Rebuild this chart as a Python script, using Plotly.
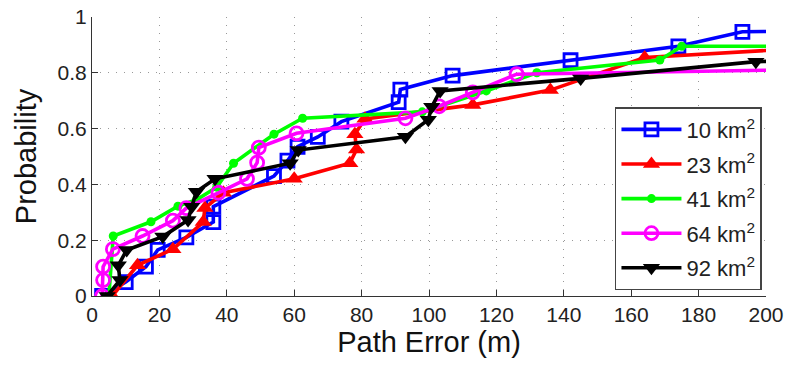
import plotly.graph_objects as go

names = ["10 km<sup>2</sup>", "23 km<sup>2</sup>", "41 km<sup>2</sup>", "64 km<sup>2</sup>", "92 km<sup>2</sup>"]

x10 = [3, 10, 16, 19.5, 28, 36, 36, 54, 58, 61, 67, 74, 91, 91.5, 107, 142, 174, 193, 215]
y10 = [0.0, 0.05, 0.105, 0.165, 0.21, 0.265, 0.32, 0.43, 0.485, 0.535, 0.57, 0.625, 0.695, 0.74, 0.79, 0.845, 0.895, 0.947, 0.95]

x23 = [6, 13.5, 24, 33, 33.5, 39, 60, 76.5, 78.5, 78, 81, 113, 136, 164, 215]
y23 = [0.0, 0.11, 0.168, 0.265, 0.315, 0.37, 0.42, 0.476, 0.525, 0.58, 0.635, 0.685, 0.738, 0.855, 0.89]

x41 = [5, 6.3, 17.5, 25.5, 31, 37, 42, 54, 62.5, 98, 117, 132, 168.5, 175, 215]
y41 = [0.0, 0.215, 0.266, 0.322, 0.345, 0.39, 0.476, 0.58, 0.637, 0.66, 0.735, 0.80, 0.846, 0.895, 0.895]

x64 = [3, 3.3, 3.3, 6.2, 15, 24, 28, 37.5, 46, 49, 49.5, 60.7, 93, 103, 113, 126, 215]
y64 = [0.0, 0.057, 0.105, 0.168, 0.215, 0.27, 0.315, 0.37, 0.42, 0.478, 0.532, 0.583, 0.637, 0.68, 0.73, 0.795, 0.812]

x92 = [4.5, 8.3, 7.8, 10.3, 21, 28.5, 29.6, 31, 36.5, 58.8, 61.2, 93, 99.8, 100.8, 103.3, 145, 197, 215]
y92 = [0.0, 0.057, 0.11, 0.165, 0.213, 0.272, 0.32, 0.374, 0.42, 0.476, 0.523, 0.571, 0.632, 0.678, 0.735, 0.78, 0.84, 0.845]

x_ticks = [0, 20, 40, 60, 80, 100, 120, 140, 160, 180, 200]
y_ticks = [0, 0.2, 0.4, 0.6, 0.8, 1]
y_tick_labels = ["0", "0.2", "0.4", "0.6", "0.8", "1"]

series = [
    (x10, y10, names[0], "#0000ff", "square-open", 13, 2.8),
    (x23, y23, names[1], "#ff0000", "triangle-up", 15, 0),
    (x41, y41, names[2], "#00ff00", "circle", 9, 0),
    (x64, y64, names[3], "#ff00ff", "circle-open", 13, 2.8),
    (x92, y92, names[4], "#000000", "triangle-down", 15, 0),
]

fig = go.Figure()
for i, (xs, ys, nm, col, sym, sz, lw) in enumerate(series):
    fig.add_trace(go.Scatter(
        x=xs, y=ys, name=nm, mode="lines+markers", legendgroup="g%d" % i,
        line=dict(color=col, width=3.6),
        marker=dict(symbol=sym, size=sz, color=col, line=dict(color=col, width=lw)),
        cliponaxis=True,
    ))

font_family = "Liberation Sans, Arial, Helvetica, sans-serif"

fig.update_layout(
    width=788, height=371,
    margin=dict(l=92, r=22, t=17, b=75),
    paper_bgcolor="white", plot_bgcolor="white",
    font=dict(family=font_family, size=21, color="#222"),
    showlegend=True,
    legend=dict(
        x=0.994, y=0.677, xanchor="right", yanchor="top",
        bgcolor="white", bordercolor="#444", borderwidth=1.5,
        font=dict(size=22, color="#222"),
        tracegroupgap=3, itemwidth=60,
    ),
    xaxis=dict(
        range=[0, 200], tickvals=x_ticks, ticktext=[str(v) for v in x_ticks],
        showgrid=True, gridcolor="#999999", griddash="1px,7px", gridwidth=1,
        showline=True, linecolor="#333", linewidth=1.2,
        ticks="inside", ticklen=6, tickcolor="#333",
        zeroline=False, mirror=False, automargin=False,
        ticklabeloverflow="allow",
        title=dict(text="Path Error (m)", font=dict(size=29, color="#111"), standoff=4),
        tickfont=dict(size=21),
    ),
    yaxis=dict(
        range=[0, 1], tickvals=y_ticks, ticktext=y_tick_labels,
        showgrid=True, gridcolor="#999999", griddash="1px,7px", gridwidth=1,
        showline=True, linecolor="#333", linewidth=1.2,
        ticks="inside", ticklen=6, tickcolor="#333",
        zeroline=False, mirror=False, automargin=False,
        ticklabeloverflow="allow",
        title=dict(text="Probability", font=dict(size=29, color="#111"), standoff=12),
        tickfont=dict(size=21),
    ),
)

fig.write_html("out.html", config={"displayModeBar": False},
               post_script="document.body.style.margin='0px';")
